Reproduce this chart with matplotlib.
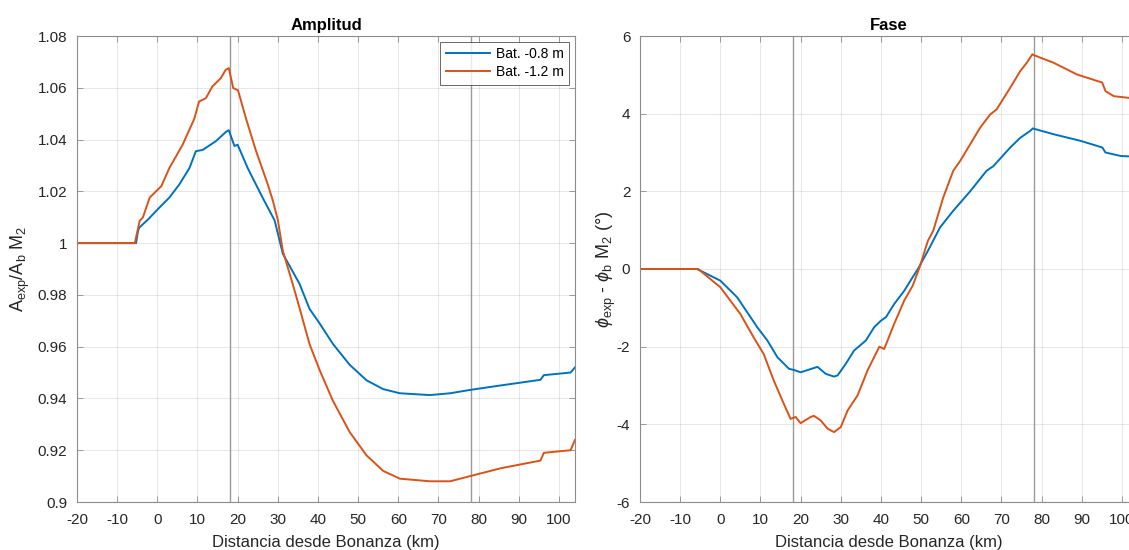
import matplotlib.pyplot as plt
from matplotlib.ticker import FuncFormatter

plt.rcParams['font.family'] = ['Liberation Sans', 'DejaVu Sans']
plt.rcParams['mathtext.fontset'] = 'custom'
plt.rcParams['mathtext.rm'] = 'Liberation Sans'
plt.rcParams['mathtext.it'] = 'Liberation Sans:italic'
plt.rcParams['axes.unicode_minus'] = False

# Amplitud
x_amp_b = [-20, -5.3, -4.8, -4.5, -2.4, 0.5, 3, 5.5, 8, 9.6, 11.3, 14.6, 17.1, 17.8, 19.2, 20,
           22.5, 26.2, 29.2, 31.25, 35.4, 37.9, 40.4, 43.75, 47.9, 52.1, 56.25, 60.4, 67.9,
           72.9, 77.9, 85.4, 95.4, 96.25, 102.9, 104]
amp_b = [1.0, 1.0, 1.0047, 1.006, 1.009, 1.0137, 1.0176, 1.0227, 1.029, 1.0355, 1.036, 1.0394,
         1.043, 1.0436, 1.0375, 1.038, 1.029, 1.0176, 1.0088, 0.9959, 0.9843, 0.9746, 0.969,
         0.961, 0.953, 0.947, 0.9436, 0.942, 0.9413, 0.942, 0.9433, 0.945, 0.9472, 0.949,
         0.950, 0.952]
x_amp_o = [-20, -5.6, -4.4, -3.6, -1.9, 1.0, 3, 6.3, 9.2, 10.4, 12.1, 13.7, 15.8, 17, 17.8,
           18.9, 20.1, 22.1, 24.6, 27.5, 28.75, 30, 31.25, 33.75, 35.4, 37.9, 40.4, 43.75, 47.9,
           52.1, 56.25, 60.4, 67.9, 72.9, 77.9, 85.4, 95.4, 96.25, 102.9, 104]
amp_o = [1.0, 1.0, 1.0086, 1.0099, 1.0176, 1.022, 1.029, 1.038, 1.048, 1.0547, 1.056, 1.0605,
         1.0637, 1.0669, 1.0676, 1.0599, 1.059, 1.048, 1.0355, 1.0227, 1.0165, 1.009, 0.997,
         0.984, 0.975, 0.961, 0.951, 0.939, 0.927, 0.918, 0.912, 0.909, 0.908, 0.908, 0.910,
         0.913, 0.916, 0.919, 0.920, 0.924]

# Fase
x_fase_b = [-20, -5.8, 0, 4.2, 9.2, 11.7, 14.2, 17.1, 18.3, 20, 23.3, 24.2, 26.25, 28.3, 29.2,
            31.25, 33.3, 36.25, 38.3, 40, 41.25, 43.3, 45.8, 47.9, 49.2, 51.7, 54.7, 58, 62.2,
            66.3, 68, 72.2, 74.7, 77.2, 77.8, 83, 89.7, 95.1, 95.9, 99.7, 104]
fase_b = [0, 0, -0.30, -0.73, -1.5, -1.84, -2.27, -2.57, -2.6, -2.66, -2.55, -2.52, -2.7, -2.77,
          -2.74, -2.44, -2.1, -1.84, -1.5, -1.33, -1.24, -0.9, -0.56, -0.21, 0, 0.47, 1.07,
          1.5, 2.0, 2.53, 2.65, 3.13, 3.38, 3.56, 3.62, 3.47, 3.3, 3.13, 3.0, 2.91, 2.89]
x_fase_o = [-20, -5.5, 0, 5, 8.3, 10.8, 13.3, 15.8, 17.5, 18.75, 20, 22.5, 23.3, 25, 26.7,
            28.3, 30, 31.7, 34.2, 36.7, 38.3, 39.6, 40.8, 43.3, 45.8, 47.9, 49.6, 51.7, 53,
            55.5, 58, 59.7, 62.2, 64.7, 67.2, 68.8, 72.2, 74.7, 76.3, 77.7, 78, 83, 88.8,
            95.1, 95.9, 98, 104]
fase_o = [0, 0, -0.47, -1.16, -1.76, -2.19, -2.87, -3.47, -3.86, -3.81, -3.97, -3.81, -3.78,
          -3.9, -4.11, -4.2, -4.07, -3.64, -3.25, -2.6, -2.27, -2.0, -2.06, -1.41, -0.81,
          -0.43, 0.04, 0.73, 0.98, 1.84, 2.53, 2.78, 3.21, 3.64, 3.98, 4.11, 4.67, 5.1, 5.31,
          5.53, 5.51, 5.31, 5.01, 4.8, 4.58, 4.45, 4.38]

vlines = [18, 78]
xticks = list(range(-20, 101, 10))
labels = ['Bat. -0.8 m', 'Bat. -1.2 m']
blue = '#0072BD'
orange = '#D95319'

fig = plt.figure(figsize=(11.29, 5.5), dpi=100)
ax1 = fig.add_axes([77 / 1129, 48 / 550, 498 / 1129, 466 / 550])
ax2 = fig.add_axes([640 / 1129, 48 / 550, 498 / 1129, 466 / 550])

def style(ax):
    ax.set_xlim(-20, 104)
    ax.set_xticks(xticks)
    ax.grid(True, color='#262626', alpha=0.1, linewidth=0.8)
    ax.set_axisbelow(True)
    for s in ax.spines.values():
        s.set_color('#8c8c8c')
        s.set_linewidth(0.8)
    ax.tick_params(direction='in', top=True, right=True, length=4, width=0.6,
                   color='#8c8c8c', labelsize=11, labelcolor='#262626', pad=7)
    ax.tick_params(axis='x', pad=8)
    ax.yaxis.set_major_formatter(FuncFormatter(lambda v, p: '{:g}'.format(round(v, 4))))
    for v in vlines:
        ax.axvline(v, color='#999999', linewidth=1.0, zorder=1)
    ax.set_xlabel('Distancia desde Bonanza (km)', fontsize=12, color='#262626', labelpad=6)

style(ax1)
ax1.plot(x_amp_b, amp_b, color=blue, linewidth=1.4, label=labels[0])
ax1.plot(x_amp_o, amp_o, color=orange, linewidth=1.4, label=labels[1])
ax1.set_ylim(0.9, 1.08)
ax1.set_yticks([0.9, 0.92, 0.94, 0.96, 0.98, 1.0, 1.02, 1.04, 1.06, 1.08])
ax1.set_title('Amplitud', fontsize=12, fontweight='bold', pad=4)
ax1.set_ylabel(r'A$_{\mathrm{exp}}$/A$_{\mathrm{b}}$ M$_2$', fontsize=13, color='#262626')
leg = ax1.legend(loc='upper right', fontsize=10, handlelength=3.2, fancybox=False,
                 borderaxespad=0.4, handletextpad=0.4, labelspacing=0.3)
leg.get_frame().set_edgecolor('#262626')
leg.get_frame().set_linewidth(0.6)

style(ax2)
ax2.plot(x_fase_b, fase_b, color=blue, linewidth=1.4)
ax2.plot(x_fase_o, fase_o, color=orange, linewidth=1.4)
ax2.set_ylim(-6, 6)
ax2.set_yticks([-6, -4, -2, 0, 2, 4, 6])
ax2.set_title('Fase', fontsize=12, fontweight='bold', pad=4)
ax2.set_ylabel(r'$\phi_{\mathrm{exp}}$ - $\phi_{\mathrm{b}}$ M$_2$ (°)', fontsize=13,
               color='#262626', labelpad=-1)

plt.savefig('out.png', dpi=100)
